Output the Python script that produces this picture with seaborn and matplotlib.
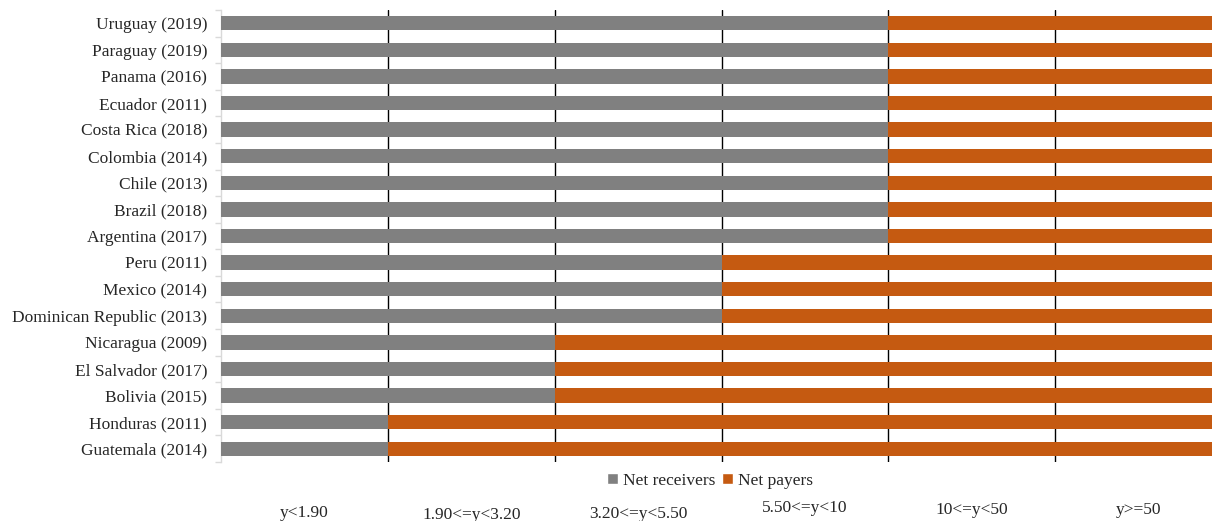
import matplotlib
matplotlib.use("Agg")
import matplotlib.pyplot as plt
import matplotlib.transforms as mtransforms
from matplotlib.patches import Patch
import numpy as np
import pandas as pd
import seaborn as sns

countries = ["Uruguay (2019)", "Paraguay (2019)", "Panama (2016)", "Ecuador (2011)",
             "Costa Rica (2018)", "Colombia (2014)", "Chile (2013)", "Brazil (2018)",
             "Argentina (2017)", "Peru (2011)", "Mexico (2014)", "Dominican Republic (2013)",
             "Nicaragua (2009)", "El Salvador (2017)", "Bolivia (2015)", "Honduras (2011)",
             "Guatemala (2014)"]
net_receivers = [4, 4, 4, 4, 4, 4, 4, 4, 4, 3, 3, 3, 2, 2, 2, 1, 1]
net_payers = [2, 2, 2, 2, 2, 2, 2, 2, 2, 3, 3, 3, 4, 4, 4, 5, 5]
income_bins = ["y<1.90", "1.90<=y<3.20", "3.20<=y<5.50", "5.50<=y<10", "10<=y<50", "y>=50"]

GRAY = "#808080"
ORANGE = "#C55A11"
FS = 12.5

sns.set_style("white")
plt.rcParams["font.family"] = ["Liberation Serif", "DejaVu Serif"]

df = pd.DataFrame({"country": countries,
                   "receivers": net_receivers,
                   "total": np.array(net_receivers) + np.array(net_payers)})

fig = plt.figure(figsize=(12.12, 5.21), dpi=100)
ax = fig.add_axes([221 / 1212, 1 - 462 / 521, 1 - 221 / 1212, (462 - 10) / 521])

sns.barplot(data=df, x="total", y="country", color=ORANGE, width=0.54,
            orient="h", ax=ax, zorder=3, saturation=1, linewidth=0)
sns.barplot(data=df, x="receivers", y="country", color=GRAY, width=0.54,
            orient="h", ax=ax, zorder=4, saturation=1, linewidth=0)

for xv in range(1, len(income_bins)):
    ax.axvline(xv, color="black", lw=1.0, zorder=1)

n = len(countries)
ax.set_xlim(0, 5.94)
ax.set_ylim(n - 0.5, -0.5)
ax.set_xlabel("")
ax.set_ylabel("")
ax.set_xticks([])
for s in ["top", "right", "bottom"]:
    ax.spines[s].set_visible(False)
ax.spines["left"].set_color("#D9D9D9")
ax.spines["left"].set_linewidth(1.0)

ax.set_yticks(range(n))
ax.set_yticklabels(countries, fontsize=FS)
ax.set_yticks(np.arange(-0.5, n, 1.0), minor=True)
ax.tick_params(axis="y", which="major", length=0, pad=10)
ax.tick_params(axis="y", which="minor", length=4, color="#D9D9D9", width=1.0, left=True)

# income bin labels below the legend
offsets = [513, 515, 514, 508, 510, 510]
for i, (lab, yp) in enumerate(zip(income_bins, offsets)):
    trans = mtransforms.blended_transform_factory(ax.transData, fig.transFigure)
    ax.text(i + 0.5, 1 - yp / 521, lab, transform=trans, ha="center", va="center",
            fontsize=FS, clip_on=False)

handles = [Patch(facecolor=GRAY, label="Net receivers"),
           Patch(facecolor=ORANGE, label="Net payers")]
fig.legend(handles=handles, loc="center", bbox_to_anchor=(710 / 1212, 1 - 481 / 521),
           ncol=2, frameon=False, fontsize=FS, handlelength=0.6, handleheight=0.6,
           handletextpad=0.3, columnspacing=0.4)

fig.savefig("out.png", dpi=100)
